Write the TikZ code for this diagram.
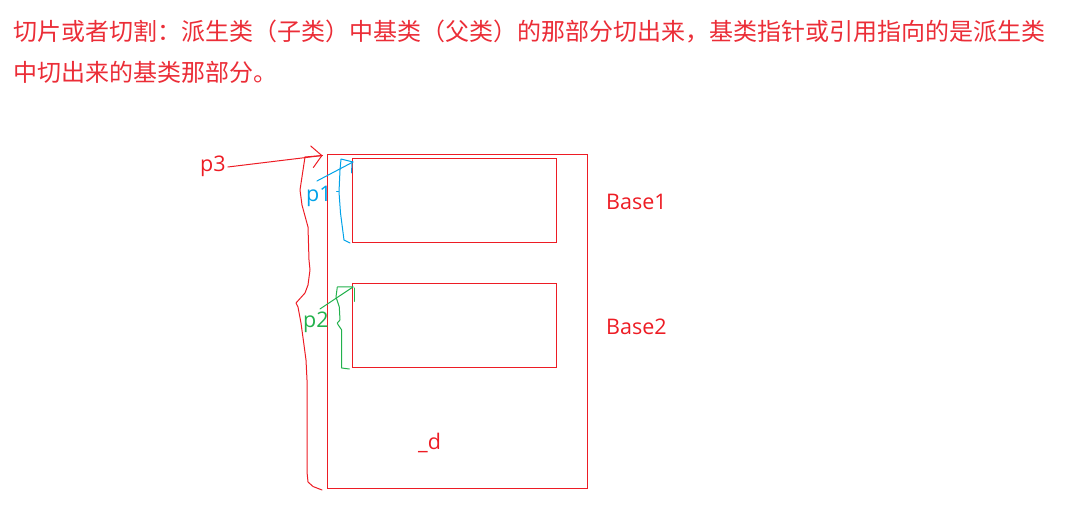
\documentclass[tikz,border=0pt]{standalone}
\usepackage{fontspec}
\setmainfont{Open Sans}
\newfontfamily\cjk{Noto Sans CJK SC}
\usetikzlibrary{arrows.meta}
\definecolor{pred}{RGB}{237,28,36}
\definecolor{tred}{RGB}{235,45,55}
\definecolor{pblue}{RGB}{0,162,232}
\definecolor{pgreen}{RGB}{34,177,76}
\begin{document}
\begin{tikzpicture}[x=1pt,y=-1pt,
  box/.style={draw=pred,line width=1pt,minimum width=#1,inner sep=0pt},
  lbl/.style={font=\fontsize{21.5}{24}\selectfont,inner sep=0pt,anchor=west},
  hand/.style={line width=1pt,line join=round,line cap=round},
  head/.style={font=\cjk\fontsize{24}{28}\selectfont,text=tred,inner sep=0pt,anchor=west}]
\useasboundingbox (0,0) rectangle (1072,518);
% heading
\node[head] (h1) at (13,32) {切片或者切割：派生类（子类）中基类（父类）的那部分切出来，基类指针或引用指向的是派生类};
\node[head] (h2) at (13,72) {中切出来的基类那部分。};
% rectangles
\node[box=260pt,minimum height=334pt] (big) at (457,322) {};
\node[box=204pt,minimum height=84pt] (b1) at (454,201) {};
\node[box=204pt,minimum height=84pt] (b2) at (454,326) {};
% labels
\node[lbl,text=pred] (l1) at (606,202) {Base1};
\node[lbl,text=pred] (l2) at (606,327) {Base2};
\node[lbl,text=pred] (d) at (418,443) {\_d};
\node[lbl,text=pred] (p3) at (200,166) {p3};
\node[lbl,text=pblue] (p1) at (306,196) {p1};
\node[lbl,text=pgreen] (p2) at (303,322) {p2};
% p3 arrow
\coordinate (t3) at (322.5,155.5);
\draw[hand,pred,-{Straight Barb[length=10pt,width=22pt,line width=1pt]}] (p3.east) ++(2,1) -- (t3);
% red brace
\draw[hand,pred] (t3) -- (305,157) -- (300,190) -- (302,205) -- (308,227) -- (309,260) -- (310,270)
  -- (308,285) -- (305,293) -- (296,303) -- (298,307) -- (301,323) -- (304,345) -- (306,360) -- (307,380)
  -- (307,472) -- (308,482) -- (313,486.5) -- (322,490);
% blue p1
\coordinate (t1) at (353,162);
\draw[hand,pblue] (p1.center) ++(-2,-15) -- (t1);
\draw[hand,pblue] (t1) -- (341,159) -- (340,170) -- (339,192) -- (340.5,213) -- (344,240) -- (350,243);
\draw[hand,pblue] (352,163) -- (351.5,173);
\draw[hand,pblue] (336.5,191.5) -- (338.5,191.5);
% green p2
\coordinate (t2) at (353,287);
\draw[hand,pgreen] (p2.center) ++(4,-13) -- (t2);
\draw[hand,pgreen] (t2) -- (337.3,287) -- (336,297) -- (339.3,307) -- (340,320) -- (337.3,323)
  -- (338.3,325) -- (341.7,330) -- (341.7,368) -- (349.3,369);
\draw[hand,pgreen] (354,288) -- (354,301.5);
\end{tikzpicture}
\end{document}
